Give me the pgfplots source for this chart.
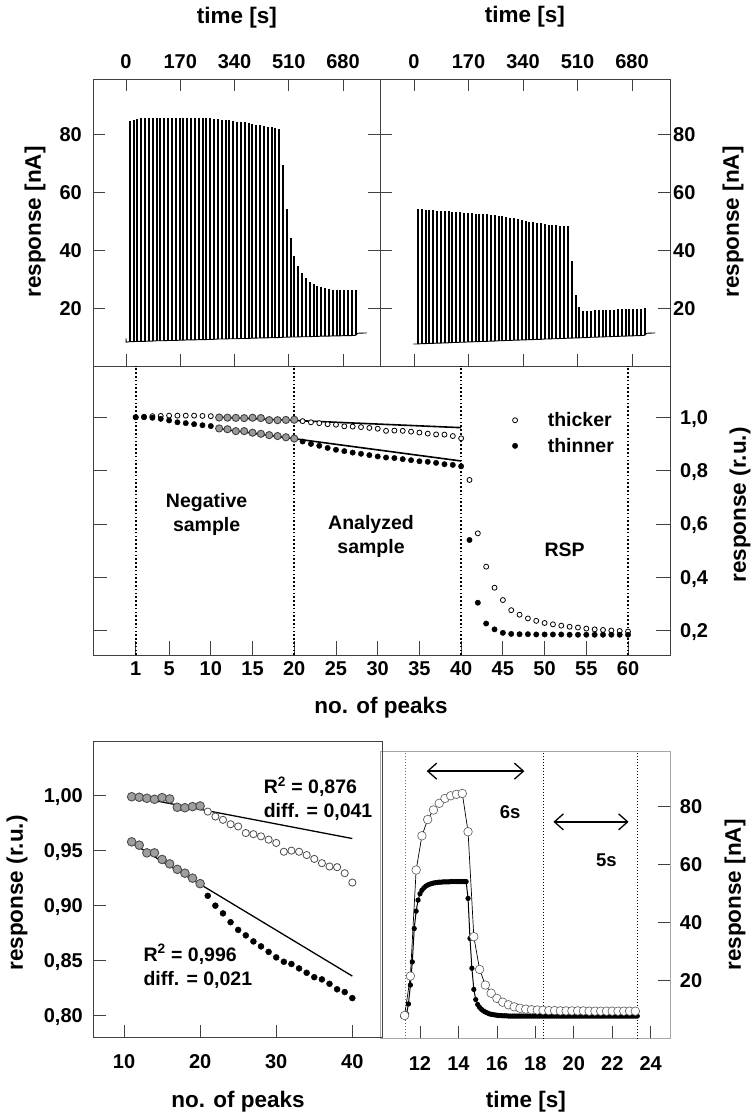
\documentclass[border=0pt]{standalone}
\usepackage{fontspec}
\setmainfont{Liberation Sans}
\usepackage{pgfplots}
\usepackage{pgfplotstable}
\pgfplotsset{compat=1.18}
\usetikzlibrary{arrows.meta}
\newcommand\ftick{\bfseries\fontsize{20}{22}\selectfont}
\newcommand\flab{\bfseries\fontsize{22.5}{25}\selectfont}
\newcommand\fann{\bfseries\fontsize{19.5}{24}\selectfont}
\newcommand\fsm{\bfseries\fontsize{18.5}{20}\selectfont}
\pgfplotsset{
  base/.style={
    scale only axis,
    axis line style={black!75, line width=0.8pt},
    tick align=inside,
    major tick style={black!75, line width=0.8pt},
    tick label style={font=\ftick, inner sep=0pt, text height=14pt, text depth=0pt},
    /pgf/number format/assume math mode=true,
  },
  spikes/.style={black, no markers, line width=0.9pt,
    error bars/.cd, y dir=plus, y explicit, error mark=none,
    error bar style={line width=2.0pt, black}},
}
\pgfplotstableread{
t b p
0 9.5 9.5
0.5 8.2 8.2
12 8.4 84.5
24 8.4 85.0
36 8.5 85.3
48 8.5 85.5
60 8.5 85.5
72 8.6 85.5
84 8.6 85.5
96 8.7 85.5
108 8.7 85.5
120 8.7 85.5
132 8.8 85.5
144 8.8 85.5
156 8.8 85.5
168 8.9 85.5
180 8.9 85.5
192 9.0 85.5
204 9.0 85.5
216 9.0 85.5
228 9.1 85.5
240 9.1 85.5
252 9.1 85.5
264 9.2 85.5
276 9.2 85.3
288 9.3 85.2
300 9.3 85.0
312 9.3 84.8
324 9.4 84.7
336 9.4 84.5
348 9.4 84.3
360 9.5 84.1
372 9.5 84.0
384 9.5 83.7
396 9.6 83.5
408 9.6 83.2
420 9.7 83.0
432 9.7 82.8
444 9.7 82.5
456 9.8 82.3
468 9.8 82.1
480 9.8 81.9
492 9.9 69.3
504 9.9 54.0
516 10.0 44.3
528 10.0 38.1
540 10.0 34.5
552 10.1 32.0
564 10.1 30.2
576 10.1 29.1
588 10.2 28.3
600 10.2 27.6
612 10.3 27.1
624 10.3 26.8
636 10.3 26.6
648 10.4 26.2
660 10.4 26.2
672 10.4 26.2
684 10.5 26.2
696 10.5 26.2
708 10.5 26.2
720 10.6 26.2
726 11.3 11.3
754 11.4 11.4
}\thickraw
\pgfplotstableread{
t b p
-2 7.6 7.6
12 7.6 54.0
24 7.7 54.0
36 7.7 53.9
48 7.8 53.8
60 7.8 53.7
72 7.9 53.6
84 7.9 53.5
96 8.0 53.4
108 8.0 53.3
120 8.1 53.2
132 8.1 53.1
144 8.2 53.0
156 8.2 52.9
168 8.3 52.8
180 8.3 52.7
192 8.4 52.6
204 8.4 52.5
216 8.5 52.4
228 8.5 52.3
240 8.6 52.2
252 8.6 52.0
264 8.7 51.8
276 8.7 51.6
288 8.8 51.4
300 8.8 51.2
312 8.9 50.9
324 8.9 50.6
336 9.0 50.3
348 9.0 50.0
360 9.1 49.8
372 9.1 49.6
384 9.2 49.4
396 9.2 49.2
408 9.3 49.0
420 9.3 48.8
432 9.4 48.6
444 9.4 48.5
456 9.5 48.4
468 9.5 48.3
480 9.6 48.3
492 9.6 36.3
504 9.7 24.4
516 9.7 20.5
528 9.8 19.1
540 9.8 19.1
552 9.9 19.1
564 9.9 19.2
576 10.0 19.2
588 10.0 19.3
600 10.1 19.3
612 10.1 19.4
624 10.2 19.4
636 10.2 19.5
648 10.3 19.5
660 10.3 19.6
672 10.4 19.6
684 10.4 19.7
696 10.5 19.7
708 10.5 19.8
720 10.6 19.9
726 11.3 11.3
752 11.4 11.4
}\thinraw
\pgfplotstableread{
k r
1 1.000
2 1.002
3 1.004
4 1.005
5 1.006
6 1.006
7 1.006
8 1.006
9 1.005
10 1.004
21 0.9855
22 0.981
23 0.978
24 0.974
25 0.972
26 0.966
27 0.965
28 0.963
29 0.960
30 0.957
31 0.949
32 0.950
33 0.949
34 0.946
35 0.9425
36 0.9386
37 0.9356
38 0.935
39 0.9295
40 0.921
41 0.765
42 0.565
43 0.440
44 0.361
45 0.315
46 0.277
47 0.260
48 0.246
49 0.237
50 0.229
51 0.224
52 0.219
53 0.215
54 0.212
55 0.208
56 0.205
57 0.203
58 0.201
59 0.199
60 0.197
}\thickrel
\pgfplotstableread{
k r
1 1.000
2 1.000
3 0.998
4 0.994
5 0.988
6 0.981
7 0.978
8 0.974
9 0.970
10 0.967
21 0.909
22 0.900
23 0.893
24 0.885
25 0.878
26 0.873
27 0.8675
28 0.863
29 0.858
30 0.853
31 0.849
32 0.847
33 0.843
34 0.839
35 0.835
36 0.833
37 0.829
38 0.824
39 0.8215
40 0.816
41 0.540
42 0.305
43 0.227
44 0.205
45 0.192
46 0.188
47 0.187
48 0.187
49 0.186
50 0.186
51 0.186
52 0.186
53 0.185
54 0.185
55 0.185
56 0.185
57 0.185
58 0.185
59 0.185
60 0.185
}\thinrel
\pgfplotstableread{
k r
11 0.999
12 0.9985
13 0.9976
14 0.9967
15 0.9982
16 0.997
17 0.9894
18 0.989
19 0.990
20 0.9906
11 0.958
12 0.955
13 0.948
14 0.948
15 0.942
16 0.938
17 0.933
18 0.9295
19 0.925
20 0.920
}\fitpts
\pgfplotstableread{
t y
11.2 8.0
11.5 21.6
11.8 58.2
12.1 70.0
12.4 75.6
12.7 78.9
13.0 81.2
13.3 82.9
13.6 83.8
13.9 84.3
14.2 84.6
14.5 71.4
14.8 35.2
15.1 23.9
15.4 18.5
15.7 15.7
16.0 13.9
16.3 12.6
16.6 11.7
16.9 11.0
17.2 10.5
17.5 10.2
17.8 10.0
18.1 9.9
18.4 9.8
18.7 9.7
19.0 9.7
19.3 9.6
19.6 9.6
19.9 9.6
20.2 9.6
20.5 9.6
20.8 9.5
21.1 9.5
21.4 9.5
21.7 9.5
22.0 9.5
22.3 9.5
22.6 9.5
22.9 9.5
23.2 9.5
}\pkthick
\pgfplotstableread[row sep=\\]{
t y\\
11.1 7.8\\ 11.2 7.8\\ 11.3 8.5\\ 11.4 12.0\\ 11.5 18.5\\ 11.6 26.5\\ 11.7 38.0\\ 11.8 44.0\\ 11.9 47.8\\ 12.0 50.0\\
12.1 51.2\\ 12.2 52.0\\ 12.3 52.6\\ 12.4 53.0\\ 12.5 53.3\\ 12.6 53.5\\ 12.7 53.7\\ 12.8 53.8\\ 12.9 53.9\\ 13.0 54.0\\
13.1 54.0\\ 13.2 54.1\\ 13.3 54.1\\ 13.4 54.1\\ 13.5 54.1\\ 13.6 54.2\\ 13.7 54.2\\ 13.8 54.2\\ 13.9 54.2\\ 14.0 54.2\\
14.1 54.2\\ 14.2 54.2\\ 14.3 54.2\\ 14.4 54.2\\ 14.5 48.4\\ 14.6 34.6\\ 14.7 24.3\\ 14.8 17.0\\ 14.9 13.5\\ 15.0 11.8\\
15.1 10.8\\ 15.2 10.1\\ 15.3 9.6\\ 15.4 9.2\\ 15.5 8.9\\ 15.6 8.6\\ 15.7 8.4\\ 15.8 8.3\\ 15.9 8.2\\ 16.0 8.1\\
16.1 8.0\\ 16.2 8.0\\ 16.3 7.9\\ 16.4 7.9\\ 16.5 7.9\\ 16.6 7.8\\ 16.7 7.8\\ 16.8 7.8\\ 16.9 7.8\\ 17.0 7.8\\
17.1 7.8\\ 17.2 7.8\\ 17.3 7.8\\ 17.4 7.8\\ 17.5 7.8\\ 17.6 7.8\\ 17.7 7.8\\ 17.8 7.8\\ 17.9 7.8\\ 18.0 7.8\\
18.1 7.8\\ 18.2 7.8\\ 18.3 7.8\\ 18.4 7.8\\ 18.5 7.8\\ 18.6 7.8\\ 18.7 7.8\\ 18.8 7.8\\ 18.9 7.8\\ 19.0 7.8\\
19.1 7.8\\ 19.2 7.8\\ 19.3 7.8\\ 19.4 7.8\\ 19.5 7.8\\ 19.6 7.8\\ 19.7 7.8\\ 19.8 7.8\\ 19.9 7.8\\ 20.0 7.8\\
20.1 7.8\\ 20.2 7.8\\ 20.3 7.8\\ 20.4 7.8\\ 20.5 7.8\\ 20.6 7.8\\ 20.7 7.8\\ 20.8 7.8\\ 20.9 7.8\\ 21.0 7.8\\
21.1 7.8\\ 21.2 7.8\\ 21.3 7.8\\ 21.4 7.8\\ 21.5 7.8\\ 21.6 7.8\\ 21.7 7.8\\ 21.8 7.8\\ 21.9 7.8\\ 22.0 7.8\\
22.1 7.8\\ 22.2 7.8\\ 22.3 7.8\\ 22.4 7.8\\ 22.5 7.8\\ 22.6 7.8\\ 22.7 7.8\\ 22.8 7.8\\ 22.9 7.8\\ 23.0 7.8\\
23.1 7.8\\ 23.2 7.8\\ 23.3 7.8\\
}\pkthin
\begin{document}
\begin{tikzpicture}
\useasboundingbox (0pt,0pt) rectangle (752pt,-1117pt);
% ---------- top left
\begin{axis}[base, at={(93pt,-79pt)}, anchor=north west,
  width=287pt, height=287pt,
  xmin=-103.4, xmax=796, ymin=0, ymax=99,
  xtick={0,170,340,510,680}, xtick pos=both, xticklabel pos=right,
  ytick={20,40,60,80}, ytick pos=both, yticklabel pos=left,
  major tick length=12pt, xticklabel shift=10.6pt, yticklabel shift=11pt]
\addplot[spikes] table[x=t, y=b, y error expr=\thisrow{p}-\thisrow{b}] {\thickraw};
\end{axis}
% ---------- top right
\begin{axis}[base, at={(380pt,-79pt)}, anchor=north west,
  width=290pt, height=287pt,
  xmin=-106, xmax=798.5, ymin=0, ymax=99,
  xtick={0,170,340,510,680}, xtick pos=both, xticklabel pos=right,
  ytick={20,40,60,80}, ytick pos=both, yticklabel pos=right,
  major tick length=12pt, xticklabel shift=10.6pt, yticklabel shift=3pt]
\addplot[spikes] table[x=t, y=b, y error expr=\thisrow{p}-\thisrow{b}] {\thinraw};
\end{axis}
% ---------- middle
\begin{axis}[base, at={(93pt,-366pt)}, anchor=north west,
  width=577pt, height=289pt,
  xmin=-4.118, xmax=65.03, ymin=0.109, ymax=1.192,
  xtick={1,5,10,15,20,25,30,35,40,45,50,55,60}, xtick pos=left,
  ytick={0.2,0.4,0.6,0.8,1.0}, yticklabels={{0,2},{0,4},{0,6},{0,8},{1,0}},
  ytick pos=both, yticklabel pos=right,
  major tick length=14pt, xticklabel shift=6.6pt, yticklabel shift=10pt,
  legend style={at={(axis description cs:0.7213,0.847)}, anchor=north west,
    draw=none, fill=none, font=\fann, row sep=10pt, column sep=30pt,
    nodes={inner sep=0pt}},
  legend cell align=left,
  legend image code/.code={\draw[#1] plot coordinates {(0pt,0pt)};}]
\addplot[forget plot, black, line width=1.6pt, dash pattern=on 1.6pt off 2.2pt] coordinates {(1,0.109)(1,1.192)};
\addplot[forget plot, black, line width=1.6pt, dash pattern=on 1.6pt off 2.2pt] coordinates {(20,0.109)(20,1.192)};
\addplot[forget plot, black, line width=1.6pt, dash pattern=on 1.6pt off 2.2pt] coordinates {(40,0.109)(40,1.192)};
\addplot[forget plot, black, line width=1.6pt, dash pattern=on 1.6pt off 2.2pt] coordinates {(60,0.109)(60,1.192)};
\addplot[only marks, mark=*, mark size=2.5pt, mark options={fill=white, draw=black, line width=0.8pt}] table[x=k, y=r] {\thickrel};
\addlegendentry{thicker}
\addplot[only marks, mark=*, mark size=2.7pt, black] table[x=k, y=r] {\thinrel};
\addlegendentry{thinner}
\addplot[forget plot, only marks, mark=*, mark size=3.6pt, mark options={fill=black!40, draw=black!75, line width=0.9pt}] table[x=k, y=r] {\fitpts};
\addplot[forget plot, black, line width=1.6pt] coordinates {(11,1.0)(40,0.961)};
\addplot[forget plot, black, line width=1.6pt] coordinates {(11,0.957)(40,0.836)};
\node[font=\fann, align=center] at (axis cs:9.5,0.637) {Negative\\sample};
\node[font=\fann, align=center] at (axis cs:29.2,0.552) {Analyzed\\sample};
\node[font=\fann] at (axis cs:52.4,0.5025) {RSP};
\end{axis}
% ---------- bottom right
\begin{axis}[base, at={(380pt,-751.7pt)}, anchor=north west,
  width=290.7pt, height=287pt,
  axis line style={black!35, line width=0.8pt},
  xmin=9.92, xmax=25.04, ymin=0, ymax=99,
  xtick={12,14,16,18,20,22,24}, xtick pos=left,
  ytick={20,40,60,80}, ytick pos=right, yticklabel pos=right,
  major tick length=13pt, xticklabel shift=17.6pt, yticklabel shift=9pt]
\addplot[black!60, line width=0.9pt, dash pattern=on 1pt off 2pt] coordinates {(11.22,0)(11.22,99)};
\addplot[black, line width=0.9pt, dash pattern=on 1pt off 2pt] coordinates {(18.42,0)(18.42,99)};
\addplot[black, line width=0.9pt, dash pattern=on 1pt off 2pt] coordinates {(23.32,0)(23.32,99)};
\addplot[black, line width=1.0pt, mark=*, mark size=2.1pt] table[x=t, y=y] {\pkthin};
\addplot[black, line width=0.7pt, mark=*, mark size=4.3pt, mark options={fill=white, draw=black!65, line width=0.6pt}] table[x=t, y=y] {\pkthick};
\draw[{Straight Barb[length=9pt,width=16pt]}-{Straight Barb[length=9pt,width=16pt]}, line width=1.3pt] (axis cs:12.35,92.3) -- (axis cs:17.43,92.3);
\draw[{Straight Barb[length=9pt,width=16pt]}-{Straight Barb[length=9pt,width=16pt]}, line width=1.3pt] (axis cs:18.94,74.8) -- (axis cs:22.85,74.8);
\node[font=\fsm] at (axis cs:16.69,78) {6s};
\node[font=\fsm] at (axis cs:21.69,61.6) {5s};
\end{axis}
% ---------- bottom left
\begin{axis}[base, at={(93pt,-741.7pt)}, anchor=north west,
  width=289pt, height=296pt,
  xmin=5.92, xmax=43.9, ymin=0.780, ymax=1.049,
  xtick={10,20,30,40}, xtick pos=left,
  ytick={0.80,0.85,0.90,0.95,1.00}, yticklabels={{0,80},{0,85},{0,90},{0,95},{1,00}},
  ytick pos=left,
  major tick length=13pt, xticklabel shift=16.6pt, yticklabel shift=10pt]
\addplot[only marks, mark=*, mark size=3.6pt, mark options={fill=white, draw=black!70, line width=0.8pt}] table[x=k, y=r, restrict x to domain=21:40] {\thickrel};
\addplot[only marks, mark=*, mark size=3.0pt, black] table[x=k, y=r, restrict x to domain=21:40] {\thinrel};
\addplot[only marks, mark=*, mark size=4.3pt, mark options={fill=black!38, draw=black!70, line width=0.9pt}] table[x=k, y=r] {\fitpts};
\addplot[black, line width=1.3pt] coordinates {(11,0.9995)(40,0.961)};
\addplot[black, line width=1.3pt] coordinates {(11,0.957)(40,0.836)};
\node[font=\fann, align=left, anchor=west] at (axis cs:27.9,0.997) {R\textsuperscript{2} = 0,876\\diff. = 0,041};
\node[font=\fann, align=left, anchor=west] at (axis cs:12.1,0.845) {R\textsuperscript{2} = 0,996\\diff. = 0,021};
\end{axis}
% ---------- labels
\node[font=\flab] at (237pt,-18pt) {time [s]};
\node[font=\flab] at (525pt,-17pt) {time [s]};
\node[font=\flab, rotate=90] at (35pt,-222pt) {response [nA]};
\node[font=\flab, rotate=90] at (733pt,-222pt) {response [nA]};
\node[font=\flab, rotate=90] at (740pt,-505pt) {response (r.u.)};
\node[font=\flab] at (381pt,-708pt) {no. of peaks};
\node[font=\flab, rotate=90] at (17pt,-893pt) {response (r.u.)};
\node[font=\flab] at (238pt,-1101.7pt) {no. of peaks};
\node[font=\flab] at (526pt,-1101.7pt) {time [s]};
\node[font=\flab, rotate=90] at (735pt,-895pt) {response [nA]};
\end{tikzpicture}
\end{document}
